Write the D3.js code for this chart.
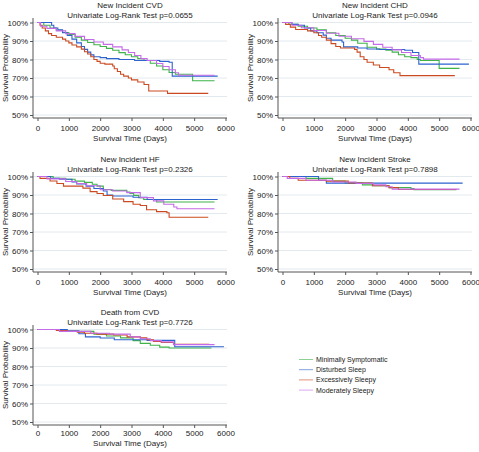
<!DOCTYPE html>
<html><head><meta charset="utf-8">
<script src="https://cdn.jsdelivr.net/npm/d3@7"></script>
<style>body{margin:0;background:#fff}svg{display:block;font-family:"Liberation Sans",Arial,sans-serif}</style>
</head><body><svg id="c" width="479" height="452"></svg>
<script>
// ---------- data ----------
const categories = ["Minimally Symptomatic","Disturbed Sleep","Excessively Sleepy","Moderately Sleepy"];
const seriesColors = ["#3fb34a","#2d63cf","#cc4a22","#c56ae8"];
const panelTitles = ["New Incident CVD","New Incident CHD","New Incident HF","New Incident Stroke","Death from CVD"];
const pValues = ["0.0655","0.0946","0.2326","0.7898","0.7726"];
const xTicks = [0,1000,2000,3000,4000,5000,6000];
const yTicks = [0.5,0.6,0.7,0.8,0.9,1.0];

// [days, survival] step points
const cvdMinimal = [[0,1],[200,0.985],[400,0.97],[600,0.958],[800,0.946],[1000,0.935],[1200,0.92],[1400,0.905],[1600,0.892],[1800,0.88],[2000,0.87],[2200,0.86],[2400,0.85],[2600,0.837],[2800,0.826],[3000,0.815],[3200,0.805],[3400,0.795],[3600,0.78],[3800,0.765],[4000,0.745],[4200,0.73],[4400,0.72],[4950,0.685],[5650,0.685]];
const cvdDisturbed = [[0,1],[450,0.985],[520,0.97],[650,0.96],[800,0.945],[950,0.93],[1100,0.91],[1250,0.89],[1400,0.87],[1500,0.855],[1600,0.84],[1700,0.825],[1800,0.815],[2000,0.81],[2200,0.805],[2600,0.80],[3100,0.795],[3900,0.79],[4200,0.785],[4300,0.71],[5750,0.71]];
const cvdExcessive = [[0,1],[80,0.985],[150,0.97],[250,0.955],[350,0.94],[450,0.93],[600,0.92],[800,0.91],[900,0.90],[1000,0.89],[1100,0.878],[1250,0.868],[1400,0.856],[1500,0.842],[1600,0.83],[1700,0.815],[1800,0.80],[1900,0.79],[2000,0.78],[2150,0.775],[2400,0.765],[2450,0.75],[2550,0.735],[2650,0.72],[2750,0.71],[2900,0.70],[3000,0.69],[3200,0.678],[3400,0.665],[3550,0.63],[4150,0.617],[5450,0.617]];
const cvdModerate = [[0,1],[100,0.98],[300,0.968],[600,0.955],[900,0.94],[1200,0.925],[1500,0.908],[1800,0.895],[2100,0.882],[2400,0.868],[2700,0.852],[2900,0.838],[3100,0.822],[3300,0.805],[3500,0.795],[3800,0.778],[4000,0.762],[4200,0.745],[4400,0.728],[4500,0.715],[5650,0.715]];

const chdMinimal = [[0,1],[200,0.99],[500,0.98],[800,0.97],[1100,0.96],[1400,0.945],[1700,0.93],[2000,0.915],[2200,0.905],[2400,0.888],[2700,0.866],[3000,0.856],[3300,0.85],[3500,0.84],[3700,0.826],[3900,0.815],[4100,0.81],[4300,0.80],[4400,0.795],[5000,0.752],[5650,0.752]];
const chdDisturbed = [[0,1],[300,0.99],[500,0.985],[700,0.97],[900,0.955],[1100,0.945],[1300,0.932],[1400,0.915],[1550,0.905],[1900,0.895],[1950,0.868],[2400,0.862],[2700,0.857],[3100,0.854],[3900,0.85],[4150,0.838],[4350,0.775],[5950,0.775]];
const chdExcessive = [[0,1],[100,0.99],[250,0.975],[420,0.962],[800,0.955],[1000,0.945],[1150,0.93],[1250,0.92],[1400,0.905],[1550,0.886],[1700,0.87],[1850,0.862],[2300,0.855],[2380,0.84],[2480,0.815],[2600,0.80],[2700,0.785],[2900,0.77],[3100,0.757],[3400,0.745],[3550,0.728],[3750,0.713],[5500,0.713]];
const chdModerate = [[0,1],[300,0.985],[600,0.972],[1000,0.957],[1400,0.942],[1800,0.926],[2200,0.912],[2600,0.898],[2900,0.882],[3200,0.866],[3500,0.852],[3800,0.838],[4100,0.822],[4400,0.81],[4500,0.802],[5650,0.802]];

const hfMinimal = [[0,1],[500,0.99],[900,0.985],[1200,0.975],[1500,0.968],[1750,0.958],[1900,0.948],[2100,0.93],[2350,0.925],[2850,0.916],[2950,0.908],[3070,0.898],[3230,0.886],[3390,0.876],[3800,0.862],[5650,0.862]];
const hfDisturbed = [[0,1],[420,0.99],[700,0.985],[1100,0.97],[1250,0.96],[1550,0.948],[1800,0.935],[2100,0.922],[2220,0.9],[2400,0.895],[3050,0.888],[3500,0.876],[5750,0.876]];
const hfExcessive = [[0,1],[80,0.99],[400,0.976],[620,0.962],[830,0.948],[1450,0.937],[1680,0.918],[1900,0.908],[2100,0.897],[2400,0.878],[2750,0.864],[3050,0.85],[3280,0.843],[3480,0.82],[3800,0.81],[4130,0.804],[4200,0.78],[5450,0.78]];
const hfModerate = [[0,1],[300,0.987],[900,0.973],[1250,0.962],[1570,0.95],[2000,0.928],[2400,0.922],[2850,0.913],[3280,0.886],[3700,0.868],[4030,0.85],[4350,0.835],[4450,0.826],[5650,0.826]];

const strokeMinimal = [[0,1],[750,0.99],[1600,0.975],[2000,0.965],[2550,0.955],[2870,0.95],[3400,0.94],[4100,0.935],[4200,0.928],[5550,0.928]];
const strokeDisturbed = [[0,1],[1150,0.98],[1400,0.964],[5750,0.964]];
const strokeExcessive = [[0,1],[230,0.99],[500,0.98],[1400,0.975],[2100,0.965],[2870,0.95],[3400,0.94],[3700,0.93],[5550,0.93]];
const strokeModerate = [[0,1],[150,0.99],[750,0.98],[1600,0.97],[2350,0.962],[2900,0.955],[3300,0.945],[3500,0.932],[5650,0.932]];

const deathMinimal = [[0,1],[900,0.99],[1800,0.975],[2200,0.965],[2650,0.955],[3050,0.94],[3280,0.925],[3600,0.915],[3900,0.905],[4200,0.90],[5550,0.90]];
const deathDisturbed = [[0,1],[950,0.993],[1320,0.977],[1530,0.96],[2000,0.954],[2450,0.945],[3500,0.941],[4380,0.907],[5950,0.907]];
const deathExcessive = [[0,1],[600,0.995],[950,0.99],[1270,0.985],[1500,0.98],[1900,0.975],[2430,0.97],[2860,0.96],[3280,0.955],[3490,0.945],[3700,0.935],[3950,0.93],[4340,0.92],[5480,0.92]];
const deathModerate = [[0,1],[700,0.99],[1700,0.98],[2300,0.975],[2960,0.96],[3280,0.95],[3600,0.94],[3950,0.933],[4340,0.918],[5650,0.918]];

const panelSeries = [
  [cvdMinimal,cvdDisturbed,cvdExcessive,cvdModerate],
  [chdMinimal,chdDisturbed,chdExcessive,chdModerate],
  [hfMinimal,hfDisturbed,hfExcessive,hfModerate],
  [strokeMinimal,strokeDisturbed,strokeExcessive,strokeModerate],
  [deathMinimal,deathDisturbed,deathExcessive,deathModerate]
];

// ---------- layout ----------
const svg = d3.select("#c");
svg.append("rect").attr("width",479).attr("height",452).attr("fill","#fff");
const colDx = [0,245], rowDy = [0,154,307];
const tickPad = [4,4,2], xTitleY = [140.5,140.5,138.5];
const axL = 33, axR = 227, axB = 118, axT = 18;
const x = d3.scaleLinear().domain([0,6000]).range([37.5,225.5]);
const y = d3.scaleLinear().domain([0.5,1.0]).range([115,22.5]);
const fmtPct = d3.format(".0%");
const line = d3.line().x(d=>x(d[0])).y(d=>y(d[1])).curve(d3.curveStepAfter);

panelTitles.forEach((title,i)=>{
  const row = Math.floor(i/2);
  const g = svg.append("g").attr("transform",`translate(${colDx[i%2]},${rowDy[row]})`);
  g.selectAll(".grid").data(yTicks).join("line")
    .attr("x1",axL).attr("x2",axR).attr("y1",d=>y(d)).attr("y2",d=>y(d))
    .attr("stroke","#e3eaef").attr("stroke-width",1);
  panelSeries[i].forEach((s,k)=>{
    g.append("path").attr("d",line(s)).attr("fill","none")
      .attr("stroke",seriesColors[k]).attr("stroke-width",1.1);
  });
  const ya = g.append("g").attr("transform",`translate(${axL},0)`)
    .call(d3.axisLeft(y).tickValues(yTicks).tickFormat(fmtPct).tickSize(3).tickPadding(2));
  ya.select(".domain").attr("d",`M0,${axT}V${axB}`);
  const xa = g.append("g").attr("transform",`translate(0,${axB})`)
    .call(d3.axisBottom(x).tickValues(xTicks).tickFormat(d3.format("d")).tickSize(3).tickPadding(tickPad[row]));
  xa.select(".domain").attr("d",`M${axL},0H${axR}`);
  [ya,xa].forEach(a=>{
    a.selectAll("path,line").attr("stroke","#555");
    a.selectAll("text").attr("font-size",8).attr("fill","#222").attr("font-family","Liberation Sans, Arial, sans-serif");
  });
  g.append("text").attr("x",(axL+axR)/2).attr("y",8).attr("text-anchor","middle")
    .attr("font-size",8).attr("fill","#222").text(title);
  g.append("text").attr("x",(axL+axR)/2).attr("y",17.5).attr("text-anchor","middle")
    .attr("font-size",8).attr("fill","#222").text("Univariate Log-Rank Test p="+pValues[i]);
  g.append("text").attr("x",(axL+axR)/2).attr("y",xTitleY[row]).attr("text-anchor","middle")
    .attr("font-size",8).attr("fill","#222").text("Survival Time (Days)");
  g.append("text").attr("transform",`translate(7.5,${(axT+axB)/2}) rotate(-90)`).attr("text-anchor","middle")
    .attr("font-size",8).attr("fill","#222").text("Survival Probability");
});

// legend
const lg = svg.append("g");
categories.forEach((c,k)=>{
  const yy = 359.5 + k*10.2;
  lg.append("line").attr("x1",299).attr("x2",313).attr("y1",yy).attr("y2",yy)
    .attr("stroke",seriesColors[k]).attr("stroke-width",1).attr("stroke-opacity",0.6);
  lg.append("text").attr("x",316).attr("y",yy+2.5).attr("font-size",7).attr("fill","#222").text(c);
});
</script></body></html>
